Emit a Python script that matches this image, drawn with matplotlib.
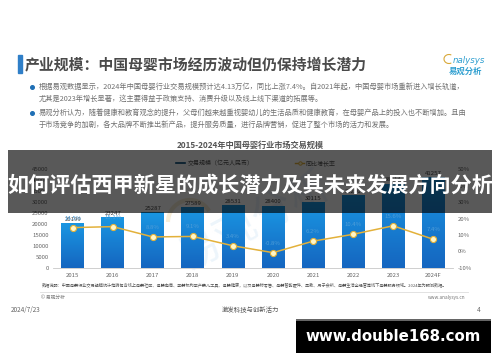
import numpy as np
import matplotlib
matplotlib.use("Agg")
import matplotlib.pyplot as plt
from matplotlib.colors import LinearSegmentedColormap
from matplotlib.patches import Rectangle, Arc

plt.rcParams['font.family'] = ['Noto Sans CJK SC', 'DejaVu Sans']

years = ["2015", "2016", "2017", "2018", "2019", "2020", "2021", "2022", "2023", "2024F"]
volume = [20199, 23247, 25287, 27589, 28531, 28400, 30115, 33250, 38414, 41257]
growth = [14.5, 15.1, 8.8, 9.1, 3.4, -0.8, 6.2, 10.4, 15.6, 7.4]
left_ticks = [0, 5000, 10000, 15000, 20000, 25000, 30000, 35000, 40000, 45000]
right_ticks = [-10, 0, 10, 20, 30, 40, 50]

title = "产业规模：中国母婴市场经历波动但仍保持增长潜力"
banner = "如何评估西甲新星的成长潜力及其未来发展方向分析"
chart_title = "2015-2024年中国母婴行业市场交易规模"
bullets = [
    (39, 87, "根据易观数据显示，2024年中国母婴行业交易规模预计达4.13万亿，同比上涨7.4%。自2021年起，中国母婴市场重新进入增长轨道，"),
    (39, 98.5, "尤其是2023年增长显著，这主要得益于政策支持、消费升级以及线上线下渠道的拓展等。"),
    (39, 113, "易观分析认为，随着健康和教育观念的提升，父母们越来越重视婴幼儿的生活品质和健康教育，在母婴产品上的投入也不断增加。且由"),
    (39, 125, "于市场竞争的加剧，各大品牌不断推出新产品，提升服务质量，进行品牌营销，促进了整个市场的活力和发展。"),
]
source = "数据说明：中国母婴行业交易规模统计范畴包含线上母婴社区、母婴电商、孕婴机构孕产婴儿工具、母婴健康，以及母婴标零售、母婴智能硬件、早教、月子会所、母婴生活全经营等线下母婴服务领域。2024年为预测数据。"

fig = plt.figure(figsize=(5, 3.62), dpi=100, facecolor="white")

# pixel canvas for everything around the chart
bg = fig.add_axes([0, 0, 1, 1])
bg.set_xlim(0, 500)
bg.set_ylim(362, 0)
bg.axis("off")

bg.add_patch(Rectangle((18, 55), 4, 18, color="#2f7fc8"))
bg.text(25, 64, title, fontsize=10.7, fontweight="bold", color="#4a4a4a", va="center")
bg.text(453, 60.5, "nalysys", fontsize=6.2, style="italic", color="#2f9fd0", ha="left", va="center", family="DejaVu Sans")
bg.add_patch(Arc((449, 59), 10, 9, theta1=60, theta2=300, color="#d9a93a", lw=0.8))
bg.text(466, 71, "易观分析", fontsize=6, fontweight="bold", color="#2f9fd0", ha="center", va="center")

for y in [87, 113]:
    bg.plot([31.5], [y], "o", ms=2.6, color="#1f6fb5")
for x, y, s in bullets:
    bg.text(x, y, s, fontsize=5.2, color="#707070", va="center")

bg.text(250, 145, chart_title, fontsize=5.9, fontweight="bold", color="#555555", ha="center", va="center")

# watermark behind the bars
bg.add_patch(Arc((190, 222), 44, 44, theta1=180, theta2=330, color="#f8eed8", lw=3))
bg.text(255, 222, "易观分析", fontsize=30, color="#edf5fb", rotation=28, ha="center", va="center")

# legend
bg.plot([176, 185], [163, 163], color="#0b4f7c", lw=1.2)
bg.text(188, 163, "交易规模（亿元人民币）", fontsize=4.3, color="#555555", va="center")
bg.plot([295, 304], [163, 163], color="#e3b13a", lw=1)
bg.plot([299.5], [163], "o", ms=2.5, mfc="#fff6c8", mec="#e3b13a", mew=0.6)
bg.text(306, 163, "同比增长率", fontsize=4.3, color="#555555", va="center")

# chart
ax = fig.add_axes([52.7 / 500, 1 - 267.7 / 362, 400.5 / 500, 98.2 / 362])
ax.patch.set_alpha(0)
x = np.arange(len(years))
bars = ax.bar(x, volume, width=0.57, color="#1a80d2", zorder=2)
cmap = LinearSegmentedColormap.from_list("bar", ["#1a96e2", "#1566c0"])
grad = np.linspace(0, 1, 64).reshape(-1, 1)
for b in bars:
    ax.imshow(grad, extent=[b.get_x(), b.get_x() + b.get_width(), 0, b.get_height()],
              cmap=cmap, aspect="auto", zorder=2.5, origin="upper")
ax.set_xlim(-0.5, 9.5)
ax.set_ylim(0, 45000)
ax.set_xticks(x, years)
ax.set_yticks(left_ticks)
ax.tick_params(axis="both", labelsize=4.3, labelcolor="#666666", length=0, pad=3)
ax.tick_params(axis="x", pad=4)
for s in ["top", "left", "right"]:
    ax.spines[s].set_visible(False)
ax.spines["bottom"].set_color("#c8c8c8")
ax.spines["bottom"].set_linewidth(0.6)
for xi, v in zip(x, volume):
    ax.annotate(str(v), (xi, v), xytext=(0, 1), textcoords="offset points",
                fontsize=4.3, color="#444444", ha="center", va="bottom", zorder=6)

ax2 = ax.twinx()
ax2.patch.set_alpha(0)
ax2.plot(x, growth, color="#e3b13a", lw=1.1, marker="o", ms=4.4, mfc="#fff6c8", mec="#e3b13a", mew=0.8, zorder=5)
ax2.set_ylim(-10, 50)
ax2.set_yticks(right_ticks, [f"{t}%" for t in right_ticks])
ax2.tick_params(axis="y", labelsize=4.3, labelcolor="#666666", length=0, pad=3)
for s in ax2.spines.values():
    s.set_visible(False)
for xi, g in zip(x, growth):
    ax2.annotate(f"{g}%", (xi, g), xytext=(0, 5), textcoords="offset points",
                 fontsize=4.3, color="#4f9ed8", ha="center", va="bottom", zorder=6)

# top canvas: footer and the overlays
fg = fig.add_axes([0, 0, 1, 1])
fg.set_xlim(0, 500)
fg.set_ylim(362, 0)
fg.axis("off")
fg.patch.set_alpha(0)

fg.text(42, 285.7, source, fontsize=3.0, color="#555555", va="center")
fg.plot([40, 468], [292, 292], color="#dddddd", lw=0.6)
fg.text(41, 297, "© 易观分析", fontsize=3.4, color="#777777", va="center")
fg.text(465, 297, "www.analysys.cn", fontsize=3.4, color="#777777", ha="right", va="center")
fg.text(11, 310, "2024/7/23", fontsize=4.6, color="#666666", va="center")
fg.text(250, 310, "激发科技与创新活力", fontsize=4.6, color="#555555", ha="center", va="center")
fg.text(477, 310, "4", fontsize=4.6, color="#666666", va="center")

fg.add_patch(Rectangle((8, 150), 484, 62.7, color="black", alpha=0.65, lw=0))
fg.text(250, 185, banner, fontsize=15.2, fontweight="bold", color="white", ha="center", va="center")

fg.add_patch(Rectangle((296, 319), 195, 33.7, color="black", lw=0))
fg.add_patch(Rectangle((296, 319), 195, 2, color="#666666", lw=0))
fg.text(393.5, 336.5, "www.double168.com", fontsize=10.8, fontweight="bold", color="white",
        ha="center", va="center", family="DejaVu Sans")

fig.savefig("out.png", dpi=100)
